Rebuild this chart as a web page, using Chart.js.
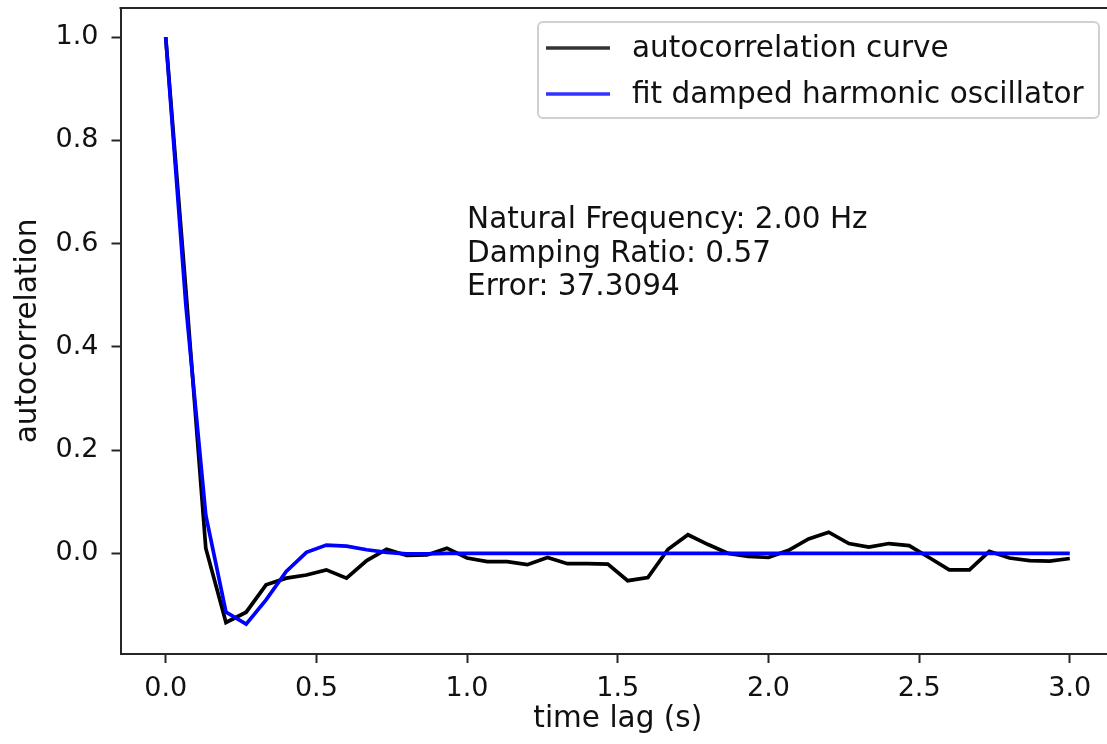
<!DOCTYPE html>
<html>
<head>
<meta charset="utf-8">
<script src="https://cdn.jsdelivr.net/npm/chart.js@4/dist/chart.umd.min.js"></script>
<style>
  html, body { margin: 0; padding: 0; background: #fff; overflow: hidden; }
  #wrap { position: relative; width: 1120px; height: 744px; }
</style>
</head>
<body>
<div id="wrap"><canvas id="c"></canvas></div>
<script>
// ---- data ----
const timeLag = [0.000, 0.067, 0.133, 0.200, 0.267, 0.333, 0.400, 0.467, 0.533, 0.600,
                 0.667, 0.733, 0.800, 0.867, 0.933, 1.000, 1.067, 1.133, 1.200, 1.267,
                 1.333, 1.400, 1.467, 1.533, 1.600, 1.667, 1.733, 1.800, 1.867, 1.933,
                 2.000, 2.067, 2.133, 2.200, 2.267, 2.333, 2.400, 2.467, 2.533, 2.600,
                 2.667, 2.733, 2.800, 2.867, 2.933, 3.000];
const autocorrelation = [1.000, 0.510, 0.010, -0.134, -0.114, -0.061, -0.048, -0.042, -0.032, -0.048,
                 -0.014, 0.008, -0.004, -0.003, 0.010, -0.009, -0.016, -0.016, -0.022, -0.008,
                 -0.020, -0.020, -0.021, -0.053, -0.047, 0.008, 0.036, 0.017, 0.000, -0.006,
                 -0.008, 0.006, 0.028, 0.041, 0.019, 0.012, 0.019, 0.015, -0.008, -0.032,
                 -0.032, 0.004, -0.009, -0.014, -0.015, -0.010];
const dampedFit = [1.000, 0.480, 0.074, -0.114, -0.137, -0.090, -0.035, 0.002, 0.016, 0.014,
                 0.007, 0.002, -0.001, -0.001, 0.000, 0.000, 0.000, 0.000, 0.000, 0.000,
                 0.000, 0.000, 0.000, 0.000, 0.000, 0.000, 0.000, 0.000, 0.000, 0.000,
                 0.000, 0.000, 0.000, 0.000, 0.000, 0.000, 0.000, 0.000, 0.000, 0.000,
                 0.000, 0.000, 0.000, 0.000, 0.000, 0.000];
const seriesLabels = ['autocorrelation curve', 'fit damped harmonic oscillator'];
const xTickValues = [0.0, 0.5, 1.0, 1.5, 2.0, 2.5, 3.0];
const yTickValues = [0.0, 0.2, 0.4, 0.6, 0.8, 1.0];
const annotationLines = ['Natural Frequency: 2.00 Hz', 'Damping Ratio: 0.57', 'Error: 37.3094'];
const xTitle = 'time lag (s)';
const yTitle = 'autocorrelation';

// ---- styling ----
const FONT = "'DejaVu Sans', 'Liberation Sans', sans-serif";
const AXIS_COLOR = '#262626';
const TEXT_COLOR = '#111111';
const colors = ['#000000', '#0000ff'];

const toPts = (ys) => ys.map((y, i) => ({ x: timeLag[i], y: y }));

const extras = {
  id: 'extras',
  afterDatasetsDraw(chart) {
    const { ctx, chartArea: a, scales } = chart;
    ctx.save();
    // top spine
    ctx.strokeStyle = AXIS_COLOR;
    ctx.lineWidth = 2;
    ctx.beginPath();
    ctx.moveTo(a.left - 1, a.top);
    ctx.lineTo(a.right + 1, a.top);
    ctx.stroke();

    // annotation text anchored at data (1.0, 0.5), baseline of last line
    ctx.fillStyle = TEXT_COLOR;
    ctx.font = `29.5px ${FONT}`;
    ctx.textAlign = 'left';
    ctx.textBaseline = 'alphabetic';
    const ax = scales.x.getPixelForValue(1.0);
    const ay = scales.y.getPixelForValue(0.5);
    const spacing = 33.5;
    annotationLines.forEach((t, i) => {
      ctx.fillText(t, ax, ay - (annotationLines.length - 1 - i) * spacing);
    });

    // legend (upper right, inside axes)
    const bx = 538, by = 22, bw = 561, bh = 96;
    ctx.beginPath();
    ctx.roundRect(bx, by, bw, bh, 5);
    ctx.fillStyle = 'rgba(255,255,255,0.8)';
    ctx.fill();
    ctx.strokeStyle = '#d0d0d0';
    ctx.lineWidth = 2;
    ctx.stroke();
    const rows = [48, 94];
    const handleColors = ['#333333', '#3333ff'];
    chart.data.datasets.forEach((ds, i) => {
      const y = rows[i];
      ctx.strokeStyle = handleColors[i];
      ctx.lineWidth = 3.7;
      ctx.beginPath();
      ctx.moveTo(546, y);
      ctx.lineTo(610, y);
      ctx.stroke();
      ctx.fillStyle = TEXT_COLOR;
      ctx.font = `29.5px ${FONT}`;
      ctx.textBaseline = 'middle';
      ctx.fillText(ds.label, 632, y + 1);
    });
    ctx.restore();
  }
};

new Chart(document.getElementById('c'), {
  type: 'line',
  data: {
    datasets: [
      { label: seriesLabels[0], data: toPts(autocorrelation), borderColor: colors[0],
        backgroundColor: colors[0], borderWidth: 3.7, pointRadius: 0, tension: 0, order: 1 },
      { label: seriesLabels[1], data: toPts(dampedFit), borderColor: colors[1],
        backgroundColor: colors[1], borderWidth: 3.7, pointRadius: 0, tension: 0, order: 0 }
    ]
  },
  options: {
    responsive: true,
    maintainAspectRatio: false,
    animation: false,
    devicePixelRatio: 1,
    layout: { padding: { top: 8, right: 5, left: 0, bottom: 0 } },
    plugins: { legend: { display: false }, tooltip: { enabled: false } },
    scales: {
      x: {
        type: 'linear',
        min: -0.15,
        max: 3.15,
        afterBuildTicks: (s) => { s.ticks = xTickValues.map(v => ({ value: v })); },
        afterFit: (s) => { s.height = 90; s.paddingLeft = 0; s.paddingRight = 0; },
        ticks: {
          color: TEXT_COLOR, font: { family: FONT, size: 27, lineHeight: 1.2 },
          padding: 10, maxRotation: 0, autoSkip: false,
          callback: (v) => Number(v).toFixed(1)
        },
        grid: { drawOnChartArea: false, drawTicks: true, tickLength: 9, tickWidth: 2, tickColor: AXIS_COLOR },
        border: { display: true, color: AXIS_COLOR, width: 2 },
        title: { display: true, text: xTitle, color: TEXT_COLOR,
                 font: { family: FONT, size: 29.5, lineHeight: 1.2 }, padding: { top: 0, bottom: 7 } }
      },
      y: {
        type: 'linear',
        min: -0.195,
        max: 1.0565,
        afterBuildTicks: (s) => { s.ticks = yTickValues.map(v => ({ value: v })); },
        afterFit: (s) => { s.width = 120.5; s.paddingTop = 0; s.paddingBottom = 0; },
        ticks: {
          color: TEXT_COLOR, font: { family: FONT, size: 27, lineHeight: 1.2 },
          padding: 13, autoSkip: false,
          callback: (v) => Number(v).toFixed(1)
        },
        grid: { drawOnChartArea: false, drawTicks: true, tickLength: 9, tickWidth: 2, tickColor: AXIS_COLOR },
        border: { display: true, color: AXIS_COLOR, width: 2 },
        title: { display: true, text: yTitle, color: TEXT_COLOR,
                 font: { family: FONT, size: 29.5, lineHeight: 1.2 }, padding: { top: 11, bottom: 0 } }
      }
    }
  },
  plugins: [extras]
});
</script>
</body>
</html>
